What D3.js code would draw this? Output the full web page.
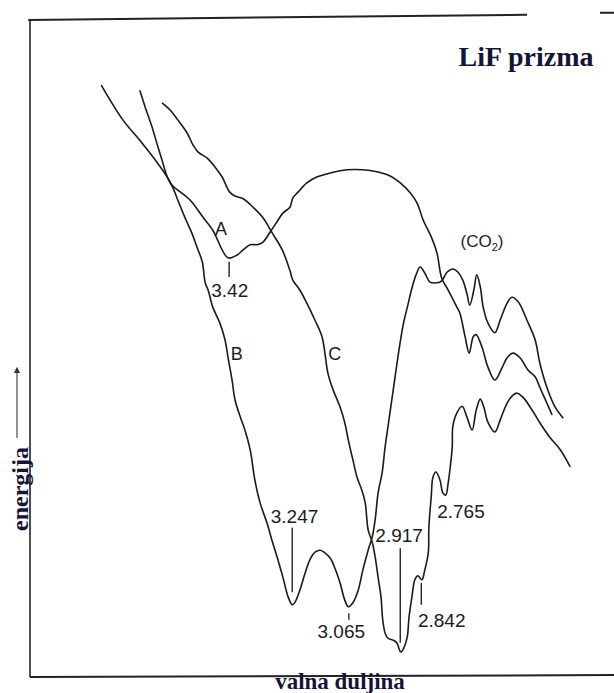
<!DOCTYPE html>
<html>
<head>
<meta charset="utf-8">
<script src="https://cdn.jsdelivr.net/npm/d3@7"></script>
<style>
  body { margin: 0; background: #fff; }
  .lbl { font-family: "Liberation Sans", Arial, sans-serif; fill: #1c1c1c; }
  .title { font-family: "Liberation Serif", "Times New Roman", serif; font-weight: bold; fill: #14143a; }
</style>
</head>
<body>
<div id="chart"></div>
<script>
// curves: [recorder position 0-100, energy 0-100]
var curveA = [[12.2,90.1],[15.9,84.8],[18.8,81.7],[21.1,79.1],[23.5,76.1],[24.3,74.9],[27.4,72.6],[29.6,70.0],[31.3,68.0],[33.9,63.8],[35.4,64.2],[36.5,65.0],[37.7,65.8],[38.9,65.8],[39.9,66.2],[41.1,67.7],[42.3,69.3],[43.3,70.6],[44.5,71.5],[45.0,72.9],[45.9,73.8],[47.4,75.2],[49.1,76.1],[51.4,76.7],[54.3,77.2],[57.0,77.2],[59.4,76.9],[61.6,76.3],[63.4,75.2],[65.1,73.7],[66.3,72.1],[67.3,69.6],[68.8,66.8],[69.7,64.5],[70.5,60.7],[71.6,58.9],[73.1,56.3],[73.6,55.4],[74.5,51.8],[75.2,49.3],[75.9,51.8],[76.4,52.1],[77.4,50.2],[78.4,47.2],[79.6,45.2],[80.8,47.0],[81.7,48.6],[82.7,49.3],[83.9,48.6],[85.3,46.7],[86.5,45.7],[87.3,44.1],[88.5,41.7],[89.4,39.9]];

var curveB = [[18.8,89.3],[19.7,86.8],[20.9,83.7],[21.7,81.3],[22.6,78.7],[23.5,76.1],[24.5,74.4],[25.3,72.6],[26.5,70.0],[27.7,67.6],[28.6,65.4],[29.5,63.2],[30.0,60.0],[30.5,58.9],[31.3,56.3],[32.5,53.9],[33.4,51.3],[33.9,48.7],[34.6,45.2],[35.1,42.2],[36.0,39.6],[36.8,37.6],[37.7,34.6],[38.5,30.0],[39.4,26.5],[40.6,23.4],[41.4,20.9],[42.3,18.3],[43.3,15.2],[44.2,12.2],[44.9,11.0],[45.4,11.4],[46.2,13.2],[47.1,15.8],[47.9,17.8],[48.8,19.0],[49.7,19.3],[50.5,18.9],[51.4,18.1],[52.2,16.6],[53.1,14.3],[53.9,11.7],[54.5,10.7],[55.3,11.3],[56.2,13.2],[57.0,16.3],[57.9,19.3],[58.6,21.3],[59.1,23.9],[59.6,28.0],[60.3,31.1],[60.8,35.0],[61.3,38.1],[62.2,43.7],[63.0,48.7],[63.9,53.6],[64.7,56.6],[65.4,59.2],[66.1,61.2],[66.8,62.4],[67.6,61.5],[68.5,60.1],[69.7,60.0],[70.5,60.3],[71.4,61.6],[72.4,62.1],[73.3,61.6],[74.1,60.4],[74.8,58.4],[75.3,56.6],[76.0,58.9],[76.5,61.2],[77.1,59.4],[77.6,56.3],[78.4,53.9],[79.6,52.4],[80.5,54.3],[81.7,56.9],[82.5,57.8],[83.6,57.1],[85.1,54.3],[86.5,51.3],[87.3,47.8],[88.5,44.1],[89.9,41.1],[91.3,39.4]];

var curveC = [[22.6,87.4],[24.0,86.3],[25.3,84.8],[26.9,82.8],[27.9,81.0],[28.8,79.9],[30.3,79.0],[31.7,77.6],[32.9,76.1],[34.2,73.8],[35.1,73.2],[36.5,72.8],[38.2,71.5],[39.9,69.9],[41.4,67.7],[43.2,65.0],[44.5,61.9],[45.0,60.4],[46.2,58.9],[47.4,56.9],[48.8,54.3],[50.0,51.8],[50.5,49.3],[51.0,46.3],[51.9,43.7],[53.1,41.1],[53.9,38.7],[54.5,36.1],[55.3,33.0],[56.0,30.4],[56.8,28.5],[57.4,26.5],[57.9,22.4],[58.6,20.5],[59.1,18.3],[59.6,15.2],[60.1,12.2],[60.4,8.7],[60.8,6.7],[61.3,5.9],[62.2,5.6],[62.8,5.2],[63.5,3.8],[64.0,4.4],[64.6,6.1],[64.9,9.1],[65.4,12.2],[65.9,14.8],[66.4,15.4],[67.1,14.8],[67.6,16.3],[68.2,18.9],[68.3,22.8],[68.7,27.4],[69.0,30.4],[69.5,31.2],[70.2,30.0],[70.7,28.0],[71.2,27.7],[71.6,29.5],[71.9,31.5],[72.3,35.0],[72.4,38.1],[73.1,40.2],[74.0,41.2],[74.8,39.6],[75.7,37.6],[76.4,40.6],[77.1,42.3],[77.7,41.1],[78.4,38.8],[79.6,37.3],[80.5,39.1],[81.7,41.7],[82.7,42.9],[83.4,43.2],[84.4,42.6],[86.0,40.6],[87.3,38.7],[89.0,36.5],[90.8,34.6],[92.5,32.0]];

// band wavelengths (um) written on the trace
var bandLabels = ["3.42", "3.247", "3.065", "2.917", "2.842", "2.765"];
var bandLabelX = [34.2, 45.3, 53.3, 63.2, 70.5, 73.8];
var bandLabelY = [57.8, 23.4, 5.9, 20.5, 7.6, 24.2];
var bandTickX = [34.1, 44.9, 54.6, 63.4, 67.0];
var bandTickTop = [63.2, 22.7, 9.7, 19.6, 14.3];
var bandTickBottom = [60.9, 12.9, 8.7, 5.2, 11.0];

var curveNames = ["A", "B", "C"];
var curveNameX = [32.7, 35.4, 52.2];
var curveNameY = [67.3, 48.2, 48.2];

var width = 614, height = 693;
var svg = d3.select("#chart").append("svg")
    .attr("width", width)
    .attr("height", height)
    .style("background", "#fff");

var x = d3.scaleLinear().domain([0, 100]).range([30, 614]);
var y = d3.scaleLinear().domain([0, 100]).range([677, 20]);

// frame (no ticks on the original)
var frame = svg.append("g").attr("stroke", "#222").attr("fill", "none");
frame.append("line")
    .attr("x1", x(0)).attr("y1", y(0))
    .attr("x2", x(0)).attr("y2", y(100))
    .attr("stroke-width", 1.6);
frame.append("line")
    .attr("x1", x(0)).attr("y1", y(0))
    .attr("x2", x(100)).attr("y2", y(0.3))
    .attr("stroke-width", 2);
frame.append("line")
    .attr("x1", x(-0.3)).attr("y1", y(100))
    .attr("x2", x(85.1)).attr("y2", y(100.8))
    .attr("stroke-width", 2);
frame.append("line")
    .attr("x1", x(97.6)).attr("y1", y(101.1))
    .attr("x2", x(100)).attr("y2", y(101.1))
    .attr("stroke-width", 2);

var line = d3.line()
    .x(function(d){ return x(d[0]); })
    .y(function(d){ return y(d[1]); })
    .curve(d3.curveCatmullRom.alpha(0.5));

svg.selectAll("path.trace")
    .data([curveA, curveB, curveC])
    .enter()
    .append("path")
    .attr("class", "trace")
    .attr("d", line)
    .attr("fill", "none")
    .attr("stroke", "#1a1a1a")
    .attr("stroke-width", 1.6)
    .attr("stroke-linejoin", "round");

svg.selectAll("line.tick")
    .data(bandTickX)
    .enter()
    .append("line")
    .attr("class", "tick")
    .attr("x1", function(d){ return x(d); })
    .attr("x2", function(d){ return x(d); })
    .attr("y1", function(d, i){ return y(bandTickTop[i]); })
    .attr("y2", function(d, i){ return y(bandTickBottom[i]); })
    .attr("stroke", "#222")
    .attr("stroke-width", 1.4);

svg.selectAll("text.band")
    .data(bandLabels)
    .enter()
    .append("text")
    .attr("class", "band lbl")
    .attr("x", function(d, i){ return x(bandLabelX[i]); })
    .attr("y", function(d, i){ return y(bandLabelY[i]); })
    .attr("text-anchor", "middle")
    .style("font-size", "19px")
    .text(function(d){ return d; });

svg.selectAll("text.name")
    .data(curveNames)
    .enter()
    .append("text")
    .attr("class", "name lbl")
    .attr("x", function(d, i){ return x(curveNameX[i]); })
    .attr("y", function(d, i){ return y(curveNameY[i]); })
    .attr("text-anchor", "middle")
    .style("font-size", "18px")
    .text(function(d){ return d; });

var co2 = svg.append("text")
    .attr("class", "lbl")
    .attr("x", x(77.4))
    .attr("y", y(65.4))
    .attr("text-anchor", "middle")
    .style("font-size", "17px");
co2.append("tspan").text("(CO");
co2.append("tspan").attr("dy", 4).style("font-size", "11px").text("2");
co2.append("tspan").attr("dy", -4).text(")");

svg.append("text")
    .attr("class", "title")
    .attr("x", 526)
    .attr("y", 66)
    .attr("text-anchor", "middle")
    .style("font-size", "28px")
    .text("LiF prizma");

svg.append("text")
    .attr("class", "title")
    .attr("transform", "translate(28,489) rotate(-90)")
    .attr("text-anchor", "middle")
    .style("font-size", "24px")
    .text("energija");

// arrow beside the y label
svg.append("defs").append("marker")
    .attr("id", "head")
    .attr("viewBox", "0 0 10 10")
    .attr("refX", 5).attr("refY", 5)
    .attr("markerWidth", 5).attr("markerHeight", 7)
    .attr("orient", "auto")
    .append("path")
    .attr("d", "M0,0L10,5L0,10z")
    .attr("fill", "#333");
svg.append("line")
    .attr("x1", 17).attr("y1", 438)
    .attr("x2", 17).attr("y2", 370)
    .attr("stroke", "#555")
    .attr("stroke-width", 1.3)
    .attr("marker-end", "url(#head)");

svg.append("text")
    .attr("class", "title")
    .attr("x", 340)
    .attr("y", 689)
    .attr("text-anchor", "middle")
    .style("font-size", "23px")
    .text("valna duljina");
</script>
</body>
</html>
